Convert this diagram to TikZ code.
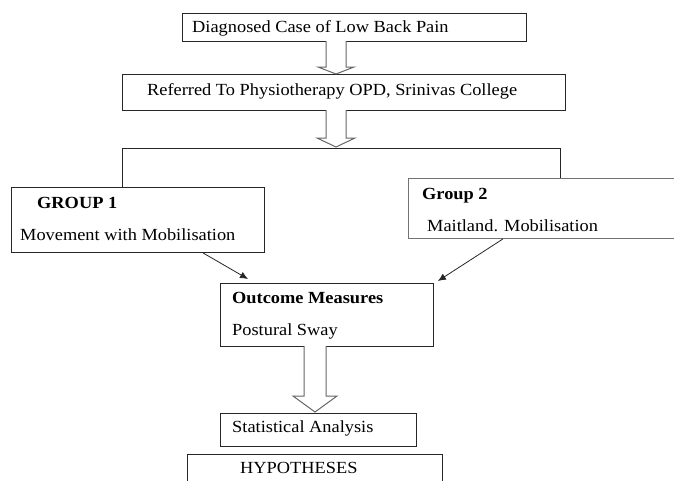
\documentclass[tikz,border=0pt]{standalone}
\usepackage{fontspec}
\setmainfont[FakeStretch=1.08]{Liberation Serif}
\usetikzlibrary{arrows.meta,calc}
\tikzset{
  box/.style={draw=black!85, line width=0.9pt, anchor=north west, inner sep=0pt},
  greybox/.style={box, draw=black!55},
  txt/.style={anchor=base west, inner sep=0pt, font=\fontsize{17}{20}\selectfont},
  btxt/.style={txt, font=\fontsize{17}{20}\selectfont\bfseries},
  hollow/.style={draw=black!60, line width=1pt, fill=white},
  link/.style={draw=black!85, line width=0.9pt},
  pointer/.style={draw=black!85, line width=0.8pt, -{Latex[length=8pt,width=7pt]}},
}
% centre x, top, head base, tip, shaft width, head width
\newcommand{\hollowdown}[6]{%
  \draw[hollow] ({#1-#5/2},#2) -- ({#1-#5/2},#3) -- ({#1-#6/2},#3) -- (#1,#4)
    -- ({#1+#6/2},#3) -- ({#1+#5/2},#3) -- ({#1+#5/2},#2);}
\begin{document}
\begin{tikzpicture}[x=1pt,y=-1pt]
\useasboundingbox (0,0) rectangle (674,480);
% boxes
\node[box, minimum width=344pt, minimum height=28pt] (diag) at (182,13) {};
\node[box, minimum width=443pt, minimum height=36pt] (refer) at (122,74) {};
\node[box, minimum width=253pt, minimum height=65pt] (g1) at (11,187) {};
\node[greybox, minimum width=280pt, minimum height=60pt] (g2) at (408,178) {};
\node[box, minimum width=213pt, minimum height=63pt] (outc) at (220,283) {};
\node[box, minimum width=196pt, minimum height=33pt] (stat) at (220,413) {};
\node[box, minimum width=255pt, minimum height=40pt] (hyp) at (187,454) {};
% texts
\node[txt] (diagtxt) at (192,32) {Diagnosed Case of Low Back Pain};
\node[txt] (refertxt) at (147,95) {Referred To Physiotherapy OPD, Srinivas College};
\node[btxt] (g1head) at (37,208) {GROUP 1};
\node[txt] (g1txt) at (20,240) {Movement with Mobilisation};
\node[btxt] (g2head) at (422,199) {Group 2};
\node[txt] (g2txt) at (427,231) {Maitland. Mobilisation};
\node[btxt] (outchead) at (232,303) {Outcome Measures};
\node[txt] (outctxt) at (232,335) {Postural Sway};
\node[txt] (stattxt) at (232,432) {Statistical Analysis};
\node[txt] (hyptxt) at (240,473) {HYPOTHESES};
% block arrows
\hollowdown{336}{41}{67}{74}{20}{36}
\hollowdown{336}{110}{138}{147}{20}{38}
\hollowdown{315}{346}{396}{412}{22}{44}
% split to the two groups
\draw[link] (g1.north -| 122,0) -- (122,148) -- (560,148) -- (g2.north -| 560,0);
% into outcome
\draw[pointer] (g1.south -| 203,0) -- ($(outc.north west)+(28,-4)$);
\draw[pointer] (g2.south -| 503,0) -- ($(outc.north east)+(4,-2)$);
\end{tikzpicture}
\end{document}
